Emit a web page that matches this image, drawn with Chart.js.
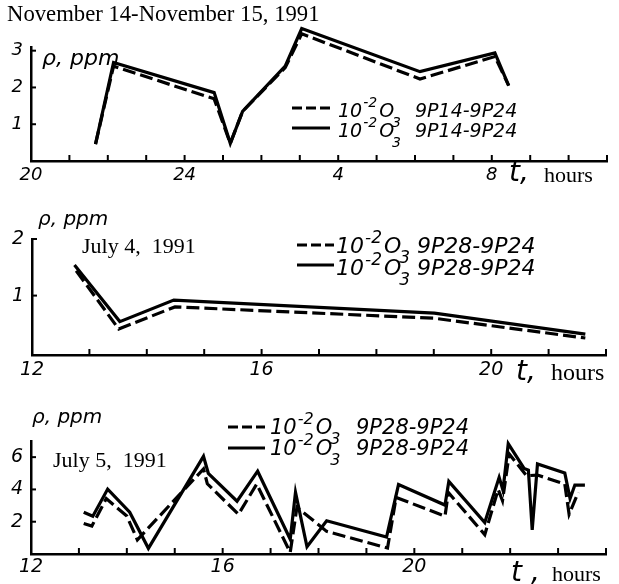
<!DOCTYPE html>
<html>
<head>
<meta charset="utf-8">
<script src="https://cdn.jsdelivr.net/npm/chart.js@4.4.0/dist/chart.umd.min.js"></script>
<style>
  html, body { margin: 0; padding: 0; background: #fff; }
  #wrap { position: relative; width: 619px; height: 584px; overflow: hidden; }
  canvas { position: absolute; left: 0; }
</style>
</head>
<body>
<div id="wrap">
  <canvas id="nov" width="619" height="195" style="top:0"></canvas>
  <canvas id="jul4" width="619" height="190" style="top:195px"></canvas>
  <canvas id="jul5" width="619" height="199" style="top:385px"></canvas>
</div>
<script>
// November 14-15, 1991 (hours keep counting past midnight: 28 = 4 h, 32 = 8 h)
const novHours = [21.68, 22.15, 24.77, 25.19, 25.51, 26.62, 27.05, 30.13, 32.08, 32.44];
const novSolid = [0.46, 2.68, 1.86, 0.48, 1.35, 2.58, 3.60, 2.43, 2.94, 2.05];
const novDashed = [0.46, 2.58, 1.69, 0.48, 1.35, 2.54, 3.46, 2.23, 2.84, 2.05];
const novHourTicks = [20, 21, 22, 23, 24, 25, 26, 27, 28, 29, 30, 31, 32, 33, 34, 35];
const novHourLabels = { 20: '20', 24: '24', 28: '4', 32: '8' };
const novValueTicks = [1, 2, 3];

// July 4, 1991
const jul4SolidHours = [12.74, 13.53, 14.47, 19.01, 21.64];
const jul4Solid = [1.54, 0.54, 0.92, 0.69, 0.32];
const jul4DashedHours = [12.77, 13.51, 14.49, 19.00, 21.64];
const jul4Dashed = [1.44, 0.41, 0.80, 0.60, 0.25];
const jul4HourTicks = [12, 13, 14, 15, 16, 17, 18, 19, 20, 21, 22];
const jul4HourLabels = { 12: '12', 16: '16', 20: '20' };
const jul4ValueTicks = [1, 2];

// July 5, 1991
const jul5SolidHours = [13.10, 13.29, 13.60, 14.06, 14.45, 15.60, 15.70, 16.30, 16.73, 17.41,
  17.52, 17.76, 18.17, 19.42, 19.67, 20.64, 20.72, 21.47, 21.77, 21.85, 21.96, 22.29, 22.38,
  22.46, 22.57, 23.14, 23.25, 23.35, 23.56];
const jul5Solid = [2.59, 2.34, 4.02, 2.59, 0.35, 6.05, 5.00, 3.27, 5.13, 0.91,
  3.82, 0.45, 2.06, 1.05, 4.30, 3.03, 4.50, 1.95, 4.75, 3.95, 6.83, 5.30, 5.20,
  1.50, 5.58, 5.02, 3.44, 4.27, 4.27];
const jul5DashedHours = [13.10, 13.27, 13.57, 14.00, 14.22, 15.60, 15.68, 16.33, 16.71, 17.41,
  17.55, 18.17, 19.44, 19.62, 20.64, 20.71, 21.47, 21.75, 21.84, 21.98, 22.34, 22.57, 23.14,
  23.23, 23.42];
const jul5Dashed = [1.89, 1.73, 3.43, 2.35, 0.88, 5.27, 4.35, 2.46, 4.33, 0.10,
  2.90, 1.40, 0.37, 3.50, 2.35, 3.81, 1.20, 4.00, 3.30, 6.20, 4.85, 4.89, 4.33,
  2.46, 3.81];
const jul5HourTicks = [12, 13, 14, 15, 16, 17, 18, 19, 20, 21, 22, 23, 24];
const jul5HourLabels = { 12: '12', 16: '16', 20: '20' };
const jul5ValueTicks = [2, 4, 6];

const SANS = '"DejaVu Sans"';
const SERIF = '"Liberation Serif", "Times New Roman", serif';

// text and legend placed on each panel, keyed by canvas id
const decor = {
  nov: {
    notes: [
      { text: 'November 14-November 15, 1991', x: 7, y: 21, font: `22.7px ${SERIF}` },
      { text: 'ρ, ppm', x: 42, y: 65, font: `oblique 22px ${SANS}` },
      { text: 't,', x: 509, y: 181, font: `oblique 28px ${SANS}` },
      { text: 'hours', x: 544, y: 182, font: `22px ${SERIF}` },
    ],
    legend: { x0: 292, x1: 330, tenX: 338, codeX: 415, size: 19, code: '9P14-9P24',
      rows: [{ dashed: true, lineY: 108, base: 117 }, { dashed: false, lineY: 128, base: 137 }] },
  },
  jul4: {
    notes: [
      { text: 'ρ, ppm', x: 38, y: 30, font: `oblique 20px ${SANS}` },
      { text: 'July 4,  1991', x: 82, y: 58, font: `22px ${SERIF}` },
      { text: 't,', x: 516, y: 185, font: `oblique 28px ${SANS}` },
      { text: 'hours', x: 551, y: 185, font: `24px ${SERIF}` },
    ],
    legend: { x0: 297, x1: 334, tenX: 336, codeX: 417, size: 22, code: '9P28-9P24',
      rows: [{ dashed: true, lineY: 50, base: 58 }, { dashed: false, lineY: 70, base: 80 }] },
  },
  jul5: {
    notes: [
      { text: 'ρ, ppm', x: 32, y: 38, font: `oblique 20px ${SANS}` },
      { text: 'July 5,  1991', x: 53, y: 82, font: `22px ${SERIF}` },
      { text: 't ,', x: 511, y: 196, font: `oblique 28px ${SANS}` },
      { text: 'hours', x: 552, y: 196, font: `22px ${SERIF}` },
    ],
    legend: { x0: 228, x1: 265, tenX: 270, codeX: 356, size: 21, code: '9P28-9P24',
      rows: [{ dashed: true, lineY: 42, base: 49 }, { dashed: false, lineY: 63, base: 70 }] },
  },
};

function drawLegend(ctx, lg) {
  ctx.fillStyle = '#000';
  ctx.strokeStyle = '#000';
  ctx.textBaseline = 'alphabetic';
  ctx.textAlign = 'left';
  const small = Math.round(lg.size * 0.75);
  lg.rows.forEach(row => {
    ctx.save();
    ctx.lineWidth = 3;
    ctx.setLineDash(row.dashed ? [10, 4] : []);
    ctx.beginPath();
    ctx.moveTo(lg.x0, row.lineY);
    ctx.lineTo(lg.x1, row.lineY);
    ctx.stroke();
    ctx.restore();

    let x = lg.tenX;
    ctx.font = `oblique ${lg.size}px ${SANS}`;
    ctx.fillText('10', x, row.base);
    x += ctx.measureText('10').width + 1;
    ctx.font = `oblique ${small}px ${SANS}`;
    ctx.fillText('-2', x, row.base - 10);
    x += ctx.measureText('-2').width + 2;
    ctx.font = `oblique ${lg.size}px ${SANS}`;
    ctx.fillText('O', x, row.base);
    x += ctx.measureText('O').width;
    ctx.font = `oblique ${small}px ${SANS}`;
    ctx.fillText('3', x - 2, row.base + 10);
    ctx.font = `oblique ${lg.size}px ${SANS}`;
    ctx.fillText(lg.code, lg.codeX, row.base);
  });
}

const panelText = {
  id: 'panelText',
  afterDraw(chart) {
    const d = decor[chart.canvas.id];
    const { ctx, chartArea } = chart;
    const xs = chart.scales.x;
    const ys = chart.scales.y;
    ctx.save();
    ctx.strokeStyle = '#000';
    ctx.lineWidth = 2;
    // short inward tick marks on both axes
    xs.ticks.forEach(t => {
      if (t.value === xs.min) return;
      const px = xs.getPixelForValue(t.value);
      ctx.beginPath();
      ctx.moveTo(px, chartArea.bottom);
      ctx.lineTo(px, chartArea.bottom - 6);
      ctx.stroke();
    });
    ys.ticks.forEach(t => {
      const py = ys.getPixelForValue(t.value);
      ctx.beginPath();
      ctx.moveTo(chartArea.left, py);
      ctx.lineTo(chartArea.left + 5, py);
      ctx.stroke();
    });
    ctx.fillStyle = '#000';
    ctx.textBaseline = 'alphabetic';
    ctx.textAlign = 'left';
    d.notes.forEach(n => {
      ctx.font = n.font;
      ctx.fillText(n.text, n.x, n.y);
    });
    drawLegend(ctx, d.legend);
    ctx.restore();
  }
};

const toPoints = (hours, values) => hours.map((h, i) => ({ x: h, y: values[i] }));

function buildPanel(id, p) {
  const line = { borderColor: '#000', borderWidth: 3.2, pointRadius: 0, tension: 0, clip: false, fill: false };
  return new Chart(document.getElementById(id), {
    type: 'line',
    data: {
      datasets: [
        { ...line, data: toPoints(p.dashedHours, p.dashed), borderDash: [13, 5] },
        { ...line, data: toPoints(p.solidHours, p.solid) },
      ],
    },
    options: {
      responsive: false,
      animation: false,
      events: [],
      layout: { padding: { top: p.top, right: 619 - p.right, bottom: 0, left: 0 } },
      plugins: { legend: { display: false }, tooltip: { enabled: false } },
      scales: {
        x: {
          type: 'linear',
          min: p.hourTicks[0],
          max: p.hourTicks[p.hourTicks.length - 1],
          afterFit: s => { s.height = p.height - p.bottom; },
          afterBuildTicks: s => { s.ticks = p.hourTicks.map(v => ({ value: v })); },
          grid: { drawOnChartArea: false, drawTicks: false },
          border: { color: '#000', width: 2.5 },
          ticks: {
            autoSkip: false, maxRotation: 0, padding: p.xPad, color: '#000',
            font: { family: 'DejaVu Sans', style: 'oblique', size: p.tickSize },
            callback: v => p.hourLabels[v] || '',
          },
        },
        y: {
          min: p.yMin,
          max: p.yMax,
          afterFit: s => { s.width = p.left; },
          afterBuildTicks: s => { s.ticks = p.valueTicks.map(v => ({ value: v })); },
          grid: { drawOnChartArea: false, drawTicks: false },
          border: { color: '#000', width: 2.5 },
          ticks: {
            padding: 8, color: '#000',
            font: { family: 'DejaVu Sans', style: 'oblique', size: p.tickSize },
            callback: v => String(v),
          },
        },
      },
    },
    plugins: [panelText],
  });
}

buildPanel('nov', {
  solidHours: novHours, solid: novSolid, dashedHours: novHours, dashed: novDashed,
  hourTicks: novHourTicks, hourLabels: novHourLabels, valueTicks: novValueTicks,
  yMin: 0, yMax: 3.1, height: 195, top: 47, bottom: 161, left: 31, right: 607,
  xPad: 4, tickSize: 18,
});

buildPanel('jul4', {
  solidHours: jul4SolidHours, solid: jul4Solid, dashedHours: jul4DashedHours, dashed: jul4Dashed,
  hourTicks: jul4HourTicks, hourLabels: jul4HourLabels, valueTicks: jul4ValueTicks,
  yMin: -0.05, yMax: 2, height: 190, top: 44, bottom: 160, left: 32, right: 606,
  xPad: 4, tickSize: 19,
});

buildPanel('jul5', {
  solidHours: jul5SolidHours, solid: jul5Solid, dashedHours: jul5DashedHours, dashed: jul5Dashed,
  hourTicks: jul5HourTicks, hourLabels: jul5HourLabels, valueTicks: jul5ValueTicks,
  yMin: 0, yMax: 7, height: 199, top: 56, bottom: 169, left: 31, right: 606,
  xPad: 2, tickSize: 19,
});
</script>
</body>
</html>
